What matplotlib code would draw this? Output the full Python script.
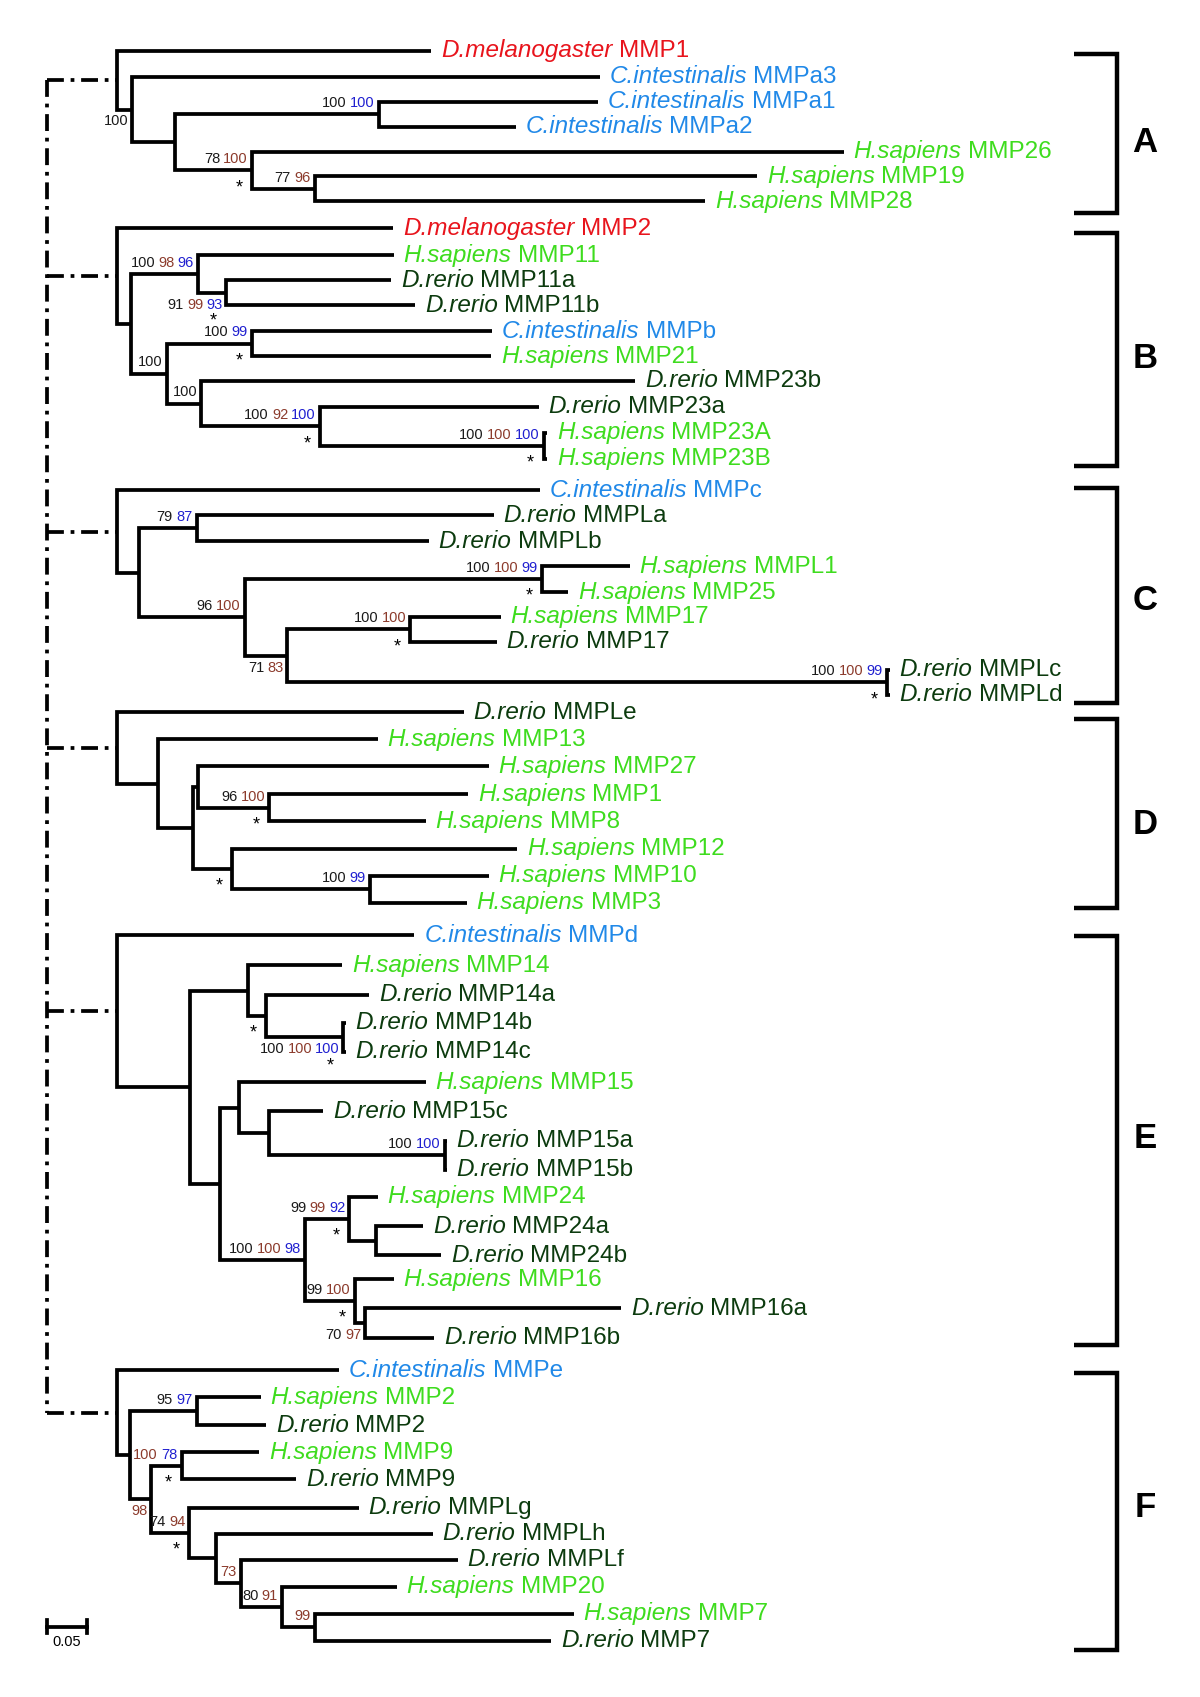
import matplotlib
matplotlib.use("Agg")
import matplotlib.pyplot as plt
from matplotlib.offsetbox import AnnotationBbox, HPacker, TextArea

plt.rcParams["font.family"] = ["Liberation Sans", "DejaVu Sans"]

# x: distance from clade root (substitutions/site), y: row position
PX = 1 / 732.0  # tree units per reference pixel (scale bar 0.05 ~ 36.6 px)

species = {
    "Dm": ("D.melanogaster", "#e8141c"),
    "Ci": ("C.intestinalis", "#2189e8"),
    "Hs": ("H.sapiens", "#3edc1e"),
    "Dr": ("D.rerio", "#0c3b0e"),
}
support_colors = {"k": "#1a1a1a", "r": "#8c3b2c", "b": "#2020d0"}

# leaf = (species, name, row_y, tip_x)
# node = (node_x, child1, child2, support values, star, label side)
tree_A = (0.000,
          ("Dm", "MMP1", 47, 0.396),
          (0.018,
           ("Ci", "MMPa3", 71, 0.609),
           (0.073,
            (0.330, ("Ci", "MMPa1", 94, 0.607), ("Ci", "MMPa2", 117, 0.503), "100k 100b", 0, "up"),
            (0.170,
             ("Hs", "MMP26", 140, 0.917),
             (0.249, ("Hs", "MMP19", 163, 0.808), ("Hs", "MMP28", 186, 0.742), "77k 96r", 0, "up"),
             "78k 100r", 1, "up"),
            "", 0, "up"),
           "100k", 0, "down"),
          "", 0, "up")

tree_B = (0.000,
          ("Dm", "MMP2", 211, 0.348),
          (0.017,
           (0.102,
            ("Hs", "MMP11", 236, 0.349),
            (0.137, ("Dr", "MMP11a", 259, 0.346), ("Dr", "MMP11b", 282, 0.376), "91k 99r 93b", 1, "down"),
            "100k 98r 96b", 0, "up"),
           (0.063,
            (0.170, ("Ci", "MMPb", 306, 0.473), ("Hs", "MMP21", 329, 0.472), "100k 99b", 1, "up"),
            (0.106,
             ("Dr", "MMP23b", 352, 0.654),
             (0.256,
              ("Dr", "MMP23a", 376, 0.532),
              (0.538, ("Hs", "MMP23A", 400, 0.543), ("Hs", "MMP23B", 424, 0.543), "100k 100r 100b", 1, "up"),
              "100k 92r 100b", 1, "up"),
             "100k", 0, "up"),
            "100k", 0, "up"),
           "", 0, "up"),
          "", 0, "up")

tree_C = (0.000,
          ("Ci", "MMPc", 453, 0.533),
          (0.027,
           (0.100, ("Dr", "MMPLa", 476, 0.475), ("Dr", "MMPLb", 500, 0.393), "79k 87b", 0, "up"),
           (0.161,
            (0.536, ("Hs", "MMPL1", 523, 0.647), ("Hs", "MMP25", 547, 0.569), "100k 100r 99b", 1, "up"),
            (0.214,
             (0.370, ("Hs", "MMP17", 570, 0.484), ("Dr", "MMP17", 593, 0.479), "100k 100r", 1, "up"),
             (0.972, ("Dr", "MMPLc", 619, 0.975), ("Dr", "MMPLd", 642, 0.975), "100k 100r 99b", 1, "up"),
             "71k 83r", 0, "down"),
            "96k 100r", 0, "up"),
           "", 0, "up"),
          "", 0, "up")

tree_D = (0.000,
          ("Dr", "MMPLe", 658, 0.437),
          (0.051,
           ("Hs", "MMP13", 683, 0.329),
           (0.096,
            (0.102,
             ("Hs", "MMP27", 708, 0.469),
             (0.192, ("Hs", "MMP1", 734, 0.443), ("Hs", "MMP8", 759, 0.389), "96k 100r", 1, "up"),
             "", 0, "up"),
            (0.145,
             ("Hs", "MMP12", 784, 0.505),
             (0.319, ("Hs", "MMP10", 809, 0.469), ("Hs", "MMP3", 834, 0.441), "100k 99b", 0, "up"),
             "", 1, "up"),
            "", 0, "up"),
           "", 0, "up"),
          "", 0, "up")

tree_E = (0.000,
          ("Ci", "MMPd", 864, 0.375),
          (0.092,
           (0.165,
            ("Hs", "MMP14", 892, 0.284),
            (0.188,
             ("Dr", "MMP14a", 919, 0.318),
             (0.285, ("Dr", "MMP14b", 945, 0.288), ("Dr", "MMP14c", 972, 0.288), "100k 100r 100b", 1, "down"),
             "", 1, "up"),
            "", 0, "up"),
           (0.129,
            (0.154,
             ("Hs", "MMP15", 1000, 0.389),
             (0.192,
              ("Dr", "MMP15c", 1027, 0.260),
              (0.413, ("Dr", "MMP15a", 1054, 0.416), ("Dr", "MMP15b", 1081, 0.416), "100k 100b", 0, "up"),
              "", 0, "up"),
             "", 0, "up"),
            (0.237,
             (0.293,
              ("Hs", "MMP24", 1106, 0.329),
              (0.326, ("Dr", "MMP24a", 1133, 0.386), ("Dr", "MMP24b", 1160, 0.409), "", 0, "up"),
              "99k 99r 92b", 1, "up"),
             (0.300,
              ("Hs", "MMP16", 1182, 0.349),
              (0.312, ("Dr", "MMP16a", 1209, 0.636), ("Dr", "MMP16b", 1236, 0.400), "70k 97r", 0, "down"),
              "99k 100r", 1, "up"),
             "100k 100r 98b", 0, "up"),
            "", 0, "up"),
           "", 0, "up"),
          "", 0, "up")

tree_F = (0.000,
          ("Ci", "MMPe", 1266, 0.280),
          (0.016,
           (0.100, ("Hs", "MMP2", 1291, 0.181), ("Dr", "MMP2", 1317, 0.188), "95k 97b", 0, "up"),
           (0.042,
            (0.081, ("Hs", "MMP9", 1342, 0.179), ("Dr", "MMP9", 1367, 0.226), "100r 78b", 1, "up"),
            (0.091,
             ("Dr", "MMPLg", 1393, 0.305),
             (0.124,
              ("Dr", "MMPLh", 1417, 0.398),
              (0.156,
               ("Dr", "MMPLf", 1441, 0.430),
               (0.208,
                ("Hs", "MMP20", 1466, 0.353),
                (0.249, ("Hs", "MMP7", 1491, 0.576), ("Dr", "MMP7", 1516, 0.548), "99r", 0, "up"),
                "80k 91r", 0, "up"),
               "73r", 0, "up"),
              "", 0, "up"),
             "74k 94r", 1, "up"),
            "98r", 0, "down"),
           "", 0, "up"),
          "", 0, "up")

trees = [tree_A, tree_B, tree_C, tree_D, tree_E, tree_F]
clade_letters = ["A", "B", "C", "D", "E", "F"]
bracket_top = [50, 215, 451, 664, 865, 1269]
bracket_bottom = [197, 431, 650, 839, 1243, 1525]
letter_y = [132, 331, 555, 762, 1052, 1393]

root_link_x = -0.089
scale_len = 0.05
scale_x0 = -0.0888
scale_y = 1503

LW = 2.7
SUP_FS = 10.5
LEAF_FS = 17.5

fig = plt.figure(figsize=(12, 16.97), dpi=100)
ax = fig.add_axes([0, 0, 1, 1])
ax.set_xlim(-108.5 * PX, 1000.5 * PX)
ax.set_ylim(1568, 0)
ax.axis("off")


def add_box(children, xy, align, sep):
    box = HPacker(children=children, align="baseline", pad=0, sep=sep)
    ab = AnnotationBbox(box, xy, xycoords="data", box_alignment=align,
                        frameon=False, pad=0)
    ax.add_artist(ab)


def leaf_label(sp, name, x, y):
    genus, color = species[sp]
    kids = [TextArea(genus, textprops=dict(color=color, fontsize=LEAF_FS, style="italic")),
            TextArea(name, textprops=dict(color=color, fontsize=LEAF_FS))]
    add_box(kids, (x + 9 * PX, y), (0, 0.5), 4.6)


def support_label(text, x, y, where):
    kids = [TextArea(v[:-1], textprops=dict(color=support_colors[v[-1]], fontsize=SUP_FS))
            for v in text.split()]
    if where == "up":
        add_box(kids, (x - 4 * PX, y - 4.0), (1, 0), 2.2)
    else:
        add_box(kids, (x - 3 * PX, y + 4.5), (1, 1), 2.2)


def draw(node):
    if isinstance(node[0], str):
        sp, name, y, tip = node
        leaf_label(sp, name, tip, y)
        return tip, y
    x, c1, c2, sup, star, where = node
    x1, y1 = draw(c1)
    x2, y2 = draw(c2)
    ax.plot([x1, x, x, x2], [y1, y1, y2, y2], color="black", lw=LW,
            solid_joinstyle="miter", solid_capstyle="butt")
    y = (y1 + y2) / 2
    if sup:
        support_label(sup, x, y, where)
    if star:
        dy = 21 if where == "down" else 11
        ax.text(x - 12 * PX, y + dy + 5, "*", ha="center", va="center",
                fontsize=13, color="black")
    return x, y


dash = (0, (4.5, 1.8, 1.0, 1.8))
root_ys = []
for t in trees:
    x0, y0 = draw(t)
    root_ys.append(y0)
    ax.plot([root_link_x, x0], [y0, y0], color="black", lw=LW, ls=dash)
ax.plot([root_link_x, root_link_x], [root_ys[0], root_ys[-1]], color="black", lw=LW, ls=dash)

# clade brackets
x_tick = (993 - 108.5) * PX
x_bar = (1032 - 108.5) * PX
x_letter = (1058 - 108.5) * PX
for letter, top, bot, ly in zip(clade_letters, bracket_top, bracket_bottom, letter_y):
    ax.plot([x_tick, x_bar, x_bar, x_tick], [top, top, bot, bot], color="black",
            lw=3.2, solid_joinstyle="miter", solid_capstyle="butt")
    ax.text(x_letter, ly, letter, fontsize=25, fontweight="bold", ha="center", va="center")

# scale bar
ax.plot([scale_x0, scale_x0 + scale_len], [scale_y, scale_y], color="black", lw=LW)
for sx in (scale_x0, scale_x0 + scale_len):
    ax.plot([sx, sx], [scale_y - 6, scale_y + 6], color="black", lw=LW)
ax.text(scale_x0 + scale_len / 2, scale_y + 8, f"{scale_len:.2f}", ha="center", va="top", fontsize=10.5)

fig.savefig("out.png", dpi=100)
